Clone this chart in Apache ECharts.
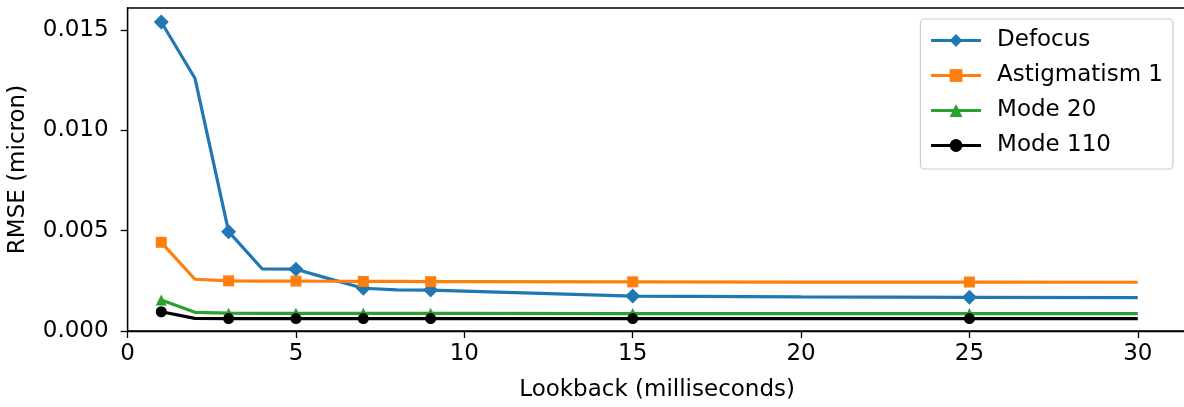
<!DOCTYPE html>
<html>
<head>
<meta charset="utf-8">
<script src="https://cdn.jsdelivr.net/npm/echarts@6/dist/echarts.min.js"></script>
<style>
html,body{margin:0;padding:0;background:#fff;overflow:hidden;}
#chart{width:1184px;height:407px;}
</style>
</head>
<body>
<div id="chart"></div>
<script>
// ---- data ----
const lookback = [1, 2, 3, 4, 5, 6, 7, 8, 9, 10, 15, 20, 25, 30];
const defocus = [0.0154, 0.0126, 0.00495, 0.00309, 0.00308, 0.0026, 0.00213, 0.00205, 0.00204, 0.00199, 0.00174, 0.00170, 0.00168, 0.00166];
const astigmatism1 = [0.00442, 0.00258, 0.00250, 0.00249, 0.00249, 0.00248, 0.00247, 0.00247, 0.00246, 0.00246, 0.00245, 0.00244, 0.00244, 0.00243];
const mode20 = [0.00155, 0.00093, 0.00089, 0.00088, 0.00088, 0.00088, 0.00088, 0.00088, 0.00088, 0.00088, 0.00087, 0.00087, 0.00087, 0.00087];
const mode110 = [0.00096, 0.00063, 0.00062, 0.00062, 0.00062, 0.00062, 0.00062, 0.00062, 0.00062, 0.00062, 0.00062, 0.00062, 0.00062, 0.00062];
const seriesNames = ['Defocus', 'Astigmatism 1', 'Mode 20', 'Mode 110'];
const xTicks = [0, 5, 10, 15, 20, 25, 30];
const yTicks = [0, 0.005, 0.010, 0.015];
const markEvery = 2;

const FONT = 'DejaVu Sans';
const FS = 23;

function build(values) {
  return lookback.map((x, i) => {
    const item = { value: [x, values[i]] };
    if (i % markEvery !== 0) item.symbol = 'none';
    return item;
  });
}

const styles = [
  { color: '#1f77b4', symbol: 'diamond', size: [15, 15] },
  { color: '#ff7f0e', symbol: 'rect', size: 11 },
  { color: '#2ca02c', symbol: 'triangle', size: [11, 11] },
  { color: '#000000', symbol: 'circle', size: 11 }
];
const allValues = [defocus, astigmatism1, mode20, mode110];

const chart = echarts.init(document.getElementById('chart'), null, { renderer: 'canvas' });
chart.setOption({
  animation: false,
  backgroundColor: '#ffffff',
  textStyle: { fontFamily: FONT },
  grid: {
    left: 127.6, width: 1059, top: 8, height: 323,
    outerBoundsMode: 'none', containLabel: false,
    show: true, borderColor: '#000', borderWidth: 1.3, backgroundColor: 'transparent'
  },
  legend: {
    orient: 'vertical',
    right: 11, top: 19,
    padding: [10, 10, 12, 9],
    itemWidth: 50, itemHeight: 16, itemGap: 12,
    borderColor: '#cccccc', borderWidth: 1.2, borderRadius: 4,
    backgroundColor: 'rgba(255,255,255,0.8)',
    lineStyle: { width: 3.2 },
    textStyle: { fontFamily: FONT, fontSize: FS, color: '#000', padding: [0, 0, 0, 11], lineHeight: 23 },
    data: seriesNames
  },
  xAxis: {
    type: 'value', min: 0, max: 31.45,
    name: 'Lookback (milliseconds)', nameLocation: 'middle', nameGap: 48,
    nameTextStyle: { fontFamily: FONT, fontSize: FS, color: '#000' },
    axisLine: { show: true, lineStyle: { color: '#000', width: 1.3 } },
    axisTick: { show: true, inside: false, length: 7, customValues: xTicks, lineStyle: { color: '#000', width: 1.3 } },
    axisLabel: { customValues: xTicks, fontFamily: FONT, fontSize: FS, color: '#000', margin: 12 },
    splitLine: { show: false }
  },
  yAxis: {
    type: 'value', min: 0, max: 0.0161,
    name: 'RMSE (micron)', nameLocation: 'middle', nameGap: 98, nameRotate: 90,
    nameTextStyle: { fontFamily: FONT, fontSize: FS, color: '#000' },
    axisLine: { show: true, lineStyle: { color: '#000', width: 1.3 } },
    axisTick: { show: true, inside: false, length: 7, customValues: yTicks, lineStyle: { color: '#000', width: 1.3 } },
    axisLabel: { customValues: yTicks, fontFamily: FONT, fontSize: FS, color: '#000', margin: 19,
      formatter: v => v.toFixed(3) },
    splitLine: { show: false }
  },
  series: seriesNames.map((name, k) => ({
    name: name,
    type: 'line',
    data: build(allValues[k]),
    symbol: styles[k].symbol,
    symbolSize: styles[k].size,
    showSymbol: true,
    showAllSymbol: true,
    color: styles[k].color,
    lineStyle: { width: 3.2, color: styles[k].color },
    itemStyle: { color: styles[k].color, borderWidth: 0 },
    emphasis: { disabled: true },
    z: 2 + k
  }))
});
</script>
</body>
</html>
